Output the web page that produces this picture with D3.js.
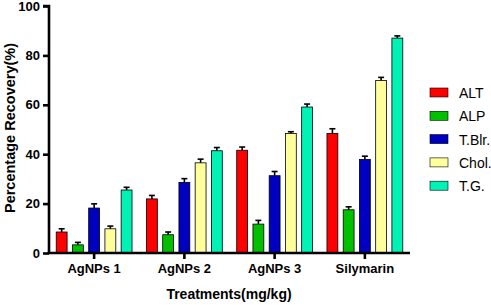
<!DOCTYPE html>
<html>
<head>
<meta charset="utf-8">
<script src="https://cdn.jsdelivr.net/npm/d3@7"></script>
<style>
  body { margin: 0; background: #fff; }
  svg { display: block; font-family: Arial, "Liberation Sans", sans-serif; }
  .tick text { font-weight: bold; font-size: 13px; fill: #000; }
</style>
</head>
<body>
<div id="chart"></div>
<script>
let treatments = ['AgNPs 1', 'AgNPs 2', 'AgNPs 3', 'Silymarin'];
let params = ['ALT', 'ALP', 'T.Blr.', 'Chol.', 'T.G.'];
let colors = ['#ff0000', '#00c000', '#0000c0', '#ffff9c', '#00f2b4'];

// mean per parameter, one entry per treatment
let means = {
  'ALT':    [8.5, 21.9, 41.6, 48.4],
  'ALP':    [3.3, 7.4, 11.7, 17.5],
  'T.Blr.': [18.2, 28.6, 31.3, 37.9],
  'Chol.':  [9.8, 36.5, 48.4, 69.8],
  'T.G.':   [25.5, 41.4, 59.1, 87.0]
};

let errs = {
  'ALT':    [1.3, 1.4, 1.3, 1.9],
  'ALP':    [1.0, 1.1, 1.5, 1.2],
  'T.Blr.': [1.7, 1.5, 1.7, 1.3],
  'Chol.':  [1.1, 1.5, 0.7, 1.3],
  'T.G.':   [1.1, 1.3, 1.2, 0.9]
};

let yTicks = [0, 20, 40, 60, 80, 100];

let width = 491, height = 305;
let margins = { top: 6, right: 81, bottom: 52, left: 49 };

let $svg = d3.select('#chart').append('svg')
  .attr('width', width)
  .attr('height', height);

let x = d3.scaleBand()
  .domain(treatments)
  .range([margins.left, width - margins.right])
  .paddingInner(0.16)
  .paddingOuter(0.08);

let xInner = d3.scaleBand()
  .domain(params)
  .range([0, x.bandwidth()])
  .paddingInner(0.33);

let y = d3.scaleLinear()
  .domain([0, 100])
  .range([height - margins.bottom, margins.top]);

let rows = [];
treatments.forEach((t, i) => {
  params.forEach((p, j) => {
    rows.push({ t: t, p: p, v: means[p][i], e: errs[p][i], c: colors[j] });
  });
});

let $bars = $svg.append('g');

// error bars (upper half only)
$bars.selectAll('.err')
  .data(rows)
  .enter()
  .append('g')
  .classed('err', true)
  .each(function(d) {
    let cx = x(d.t) + xInner(d.p) + xInner.bandwidth() / 2;
    let g = d3.select(this);
    g.append('line')
      .attr('x1', cx).attr('x2', cx)
      .attr('y1', y(d.v)).attr('y2', y(d.v + d.e))
      .attr('stroke', '#000').attr('stroke-width', 1.6);
    g.append('line')
      .attr('x1', cx - 3).attr('x2', cx + 3)
      .attr('y1', y(d.v + d.e)).attr('y2', y(d.v + d.e))
      .attr('stroke', '#000').attr('stroke-width', 1.6);
  });

$bars.selectAll('.bar')
  .data(rows)
  .enter()
  .append('rect')
  .classed('bar', true)
  .attr('x', d => x(d.t) + xInner(d.p))
  .attr('width', xInner.bandwidth())
  .attr('y', d => y(d.v))
  .attr('height', d => y(0) - y(d.v))
  .attr('fill', d => d.c)
  .attr('stroke', '#000')
  .attr('stroke-width', 0.8);

// axes
let yAxis = $svg.append('g')
  .attr('transform', `translate(${margins.left},0)`)
  .call(d3.axisLeft(y).tickValues(yTicks).tickSize(6).tickPadding(3));

let xAxis = $svg.append('g')
  .attr('transform', `translate(0,${y(0)})`)
  .call(d3.axisBottom(x).tickSize(6).tickPadding(5).tickSizeOuter(0));

[yAxis, xAxis].forEach(a => {
  a.select('.domain').attr('stroke', '#000').attr('stroke-width', 2.6);
  a.selectAll('.tick line').attr('stroke', '#000').attr('stroke-width', 2.6);
});
yAxis.select('.domain').attr('d', `M-6,${margins.top}H0V${y(0)}`);
xAxis.select('.domain').attr('d', `M${margins.left - 1.3},0H${width - margins.right}`);

$svg.append('text')
  .attr('transform', `translate(15,128) rotate(-90)`)
  .attr('text-anchor', 'middle')
  .style('font-weight', 'bold')
  .style('font-size', '14.5px')
  .text('Percentage Recovery(%)');

$svg.append('text')
  .attr('x', 229)
  .attr('y', 299)
  .attr('text-anchor', 'middle')
  .style('font-weight', 'bold')
  .style('font-size', '14px')
  .text('Treatments(mg/kg)');

// legend
let $legend = $svg.append('g')
  .attr('transform', 'translate(430,88)');

let $items = $legend.selectAll('.item')
  .data(params)
  .enter()
  .append('g')
  .attr('transform', (d, i) => `translate(0,${i * 23.3})`);

$items.append('rect')
  .attr('width', 18)
  .attr('height', 9)
  .attr('fill', (d, i) => colors[i])
  .attr('stroke', '#000')
  .attr('stroke-width', 0.6);

$items.append('text')
  .attr('x', 29)
  .attr('y', 10)
  .style('font-size', '14px')
  .text(d => d);
</script>
</body>
</html>
